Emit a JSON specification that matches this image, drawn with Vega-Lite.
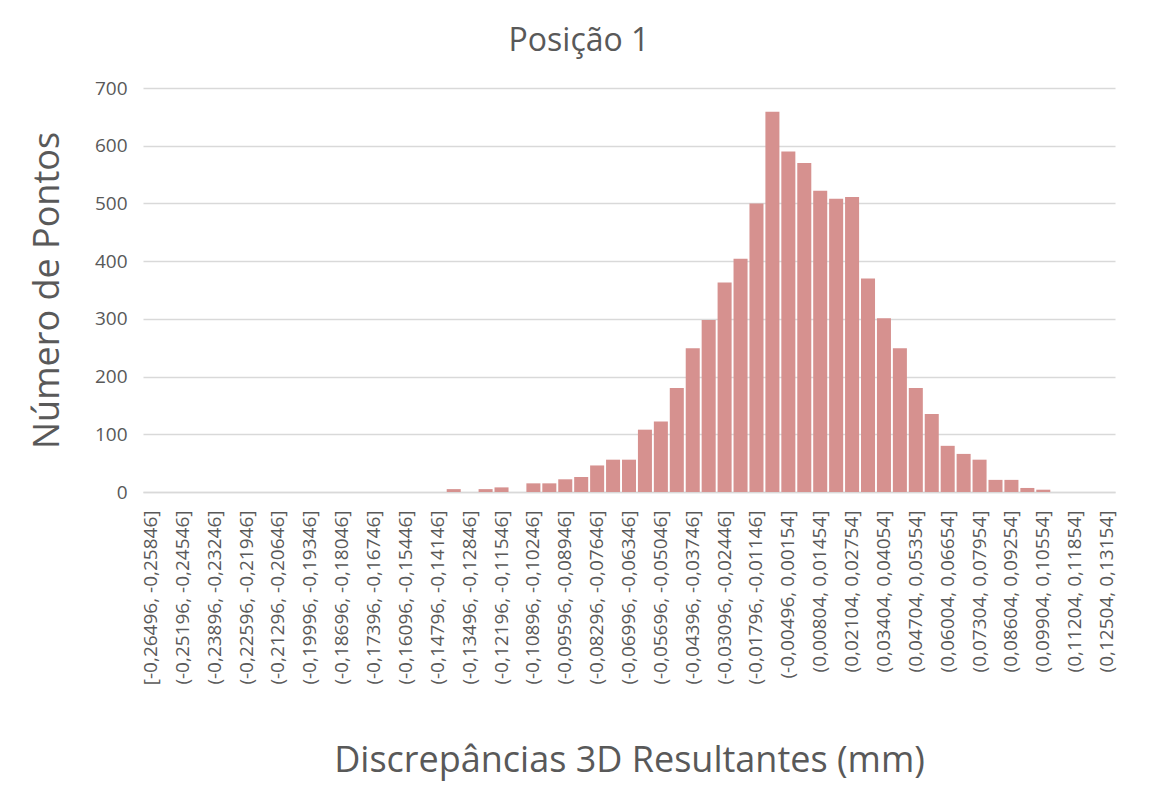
{
  "$schema": "https://vega.github.io/schema/vega-lite/v6.json",
  "width": 972,
  "height": 404,
  "autosize": {"type": "none"},
  "padding": {"left": 143, "top": 88, "right": 37, "bottom": 302},
  "background": "white",
  "title": {
    "text": "Posição 1",
    "font": "Open Sans",
    "fontSize": 32,
    "fontWeight": "normal",
    "color": "#595959",
    "anchor": "middle",
    "frame": "group",
    "baseline": "middle",
    "offset": 6,
    "dx": -50
  },
  "data": {
    "values": [
      {"bin": "[-0,26496, -0,25846]", "count": 0},
      {"bin": "(-0,25846, -0,25196]", "count": 0},
      {"bin": "(-0,25196, -0,24546]", "count": 0},
      {"bin": "(-0,24546, -0,23896]", "count": 0},
      {"bin": "(-0,23896, -0,23246]", "count": 0},
      {"bin": "(-0,23246, -0,22596]", "count": 0},
      {"bin": "(-0,22596, -0,21946]", "count": 0},
      {"bin": "(-0,21946, -0,21296]", "count": 0},
      {"bin": "(-0,21296, -0,20646]", "count": 0},
      {"bin": "(-0,20646, -0,19996]", "count": 0},
      {"bin": "(-0,19996, -0,19346]", "count": 0},
      {"bin": "(-0,19346, -0,18696]", "count": 0},
      {"bin": "(-0,18696, -0,18046]", "count": 0},
      {"bin": "(-0,18046, -0,17396]", "count": 0},
      {"bin": "(-0,17396, -0,16746]", "count": 0},
      {"bin": "(-0,16746, -0,16096]", "count": 0},
      {"bin": "(-0,16096, -0,15446]", "count": 0},
      {"bin": "(-0,15446, -0,14796]", "count": 0},
      {"bin": "(-0,14796, -0,14146]", "count": 0},
      {"bin": "(-0,14146, -0,13496]", "count": 5},
      {"bin": "(-0,13496, -0,12846]", "count": 0},
      {"bin": "(-0,12846, -0,12196]", "count": 5},
      {"bin": "(-0,12196, -0,11546]", "count": 8},
      {"bin": "(-0,11546, -0,10896]", "count": 0},
      {"bin": "(-0,10896, -0,10246]", "count": 15},
      {"bin": "(-0,10246, -0,09596]", "count": 15},
      {"bin": "(-0,09596, -0,08946]", "count": 22},
      {"bin": "(-0,08946, -0,08296]", "count": 26},
      {"bin": "(-0,08296, -0,07646]", "count": 46},
      {"bin": "(-0,07646, -0,06996]", "count": 56},
      {"bin": "(-0,06996, -0,06346]", "count": 56},
      {"bin": "(-0,06346, -0,05696]", "count": 108},
      {"bin": "(-0,05696, -0,05046]", "count": 122},
      {"bin": "(-0,05046, -0,04396]", "count": 180},
      {"bin": "(-0,04396, -0,03746]", "count": 249},
      {"bin": "(-0,03746, -0,03096]", "count": 298},
      {"bin": "(-0,03096, -0,02446]", "count": 363},
      {"bin": "(-0,02446, -0,01796]", "count": 404},
      {"bin": "(-0,01796, -0,01146]", "count": 500},
      {"bin": "(-0,01146, -0,00496]", "count": 659},
      {"bin": "(-0,00496, 0,00154]", "count": 590},
      {"bin": "(0,00154, 0,00804]", "count": 570},
      {"bin": "(0,00804, 0,01454]", "count": 522},
      {"bin": "(0,01454, 0,02104]", "count": 508},
      {"bin": "(0,02104, 0,02754]", "count": 511},
      {"bin": "(0,02754, 0,03404]", "count": 370},
      {"bin": "(0,03404, 0,04054]", "count": 301},
      {"bin": "(0,04054, 0,04704]", "count": 249},
      {"bin": "(0,04704, 0,05354]", "count": 180},
      {"bin": "(0,05354, 0,06004]", "count": 135},
      {"bin": "(0,06004, 0,06654]", "count": 80},
      {"bin": "(0,06654, 0,07304]", "count": 66},
      {"bin": "(0,07304, 0,07954]", "count": 56},
      {"bin": "(0,07954, 0,08604]", "count": 21},
      {"bin": "(0,08604, 0,09254]", "count": 21},
      {"bin": "(0,09254, 0,09904]", "count": 7},
      {"bin": "(0,09904, 0,10554]", "count": 4},
      {"bin": "(0,10554, 0,11204]", "count": 0},
      {"bin": "(0,11204, 0,11854]", "count": 0},
      {"bin": "(0,11854, 0,12504]", "count": 0},
      {"bin": "(0,12504, 0,13154]", "count": 0}
    ]
  },
  "mark": {"type": "bar", "color": "#D6918F"},
  "encoding": {
    "x": {
      "field": "bin",
      "type": "nominal",
      "sort": null,
      "scale": {"paddingInner": 0.12, "paddingOuter": 0.06},
      "axis": {
        "title": "Discrepâncias 3D Resultantes (mm)",
        "titleFont": "Open Sans",
        "titleFontSize": 36,
        "titleFontWeight": "normal",
        "titleColor": "#595959",
        "titleX": 486,
        "titleY": 268,
        "titleAlign": "center",
        "titleBaseline": "middle",
        "labelAngle": -90,
        "labelAlign": "right",
        "labelBaseline": "middle",
        "labelFont": "Open Sans",
        "labelFontSize": 19,
        "labelColor": "#595959",
        "labelPadding": 18,
        "labelOverlap": false,
        "labelLimit": 300,
        "ticks": false,
        "tickSize": 0,
        "domain": true,
        "domainColor": "#D9D9D9",
        "domainWidth": 1.5,
        "grid": false,
        "values": [
          "[-0,26496, -0,25846]", "(-0,25196, -0,24546]", "(-0,23896, -0,23246]", "(-0,22596, -0,21946]",
          "(-0,21296, -0,20646]", "(-0,19996, -0,19346]", "(-0,18696, -0,18046]", "(-0,17396, -0,16746]",
          "(-0,16096, -0,15446]", "(-0,14796, -0,14146]", "(-0,13496, -0,12846]", "(-0,12196, -0,11546]",
          "(-0,10896, -0,10246]", "(-0,09596, -0,08946]", "(-0,08296, -0,07646]", "(-0,06996, -0,06346]",
          "(-0,05696, -0,05046]", "(-0,04396, -0,03746]", "(-0,03096, -0,02446]", "(-0,01796, -0,01146]",
          "(-0,00496, 0,00154]", "(0,00804, 0,01454]", "(0,02104, 0,02754]", "(0,03404, 0,04054]",
          "(0,04704, 0,05354]", "(0,06004, 0,06654]", "(0,07304, 0,07954]", "(0,08604, 0,09254]",
          "(0,09904, 0,10554]", "(0,11204, 0,11854]", "(0,12504, 0,13154]"
        ]
      }
    },
    "y": {
      "field": "count",
      "type": "quantitative",
      "scale": {"domain": [0, 700], "nice": false},
      "axis": {
        "title": "Número de Pontos",
        "titleFont": "Open Sans",
        "titleFontSize": 36,
        "titleFontWeight": "normal",
        "titleColor": "#595959",
        "titleAngle": -90,
        "titleX": -96,
        "titleY": 202,
        "titleAlign": "center",
        "titleBaseline": "middle",
        "values": [0, 100, 200, 300, 400, 500, 600, 700],
        "labelFont": "Open Sans",
        "labelFontSize": 19,
        "labelColor": "#595959",
        "labelPadding": 16,
        "ticks": false,
        "tickSize": 0,
        "domain": false,
        "grid": true,
        "gridColor": "#D9D9D9",
        "gridWidth": 1.3
      }
    }
  },
  "config": {
    "view": {"stroke": null}
  }
}
